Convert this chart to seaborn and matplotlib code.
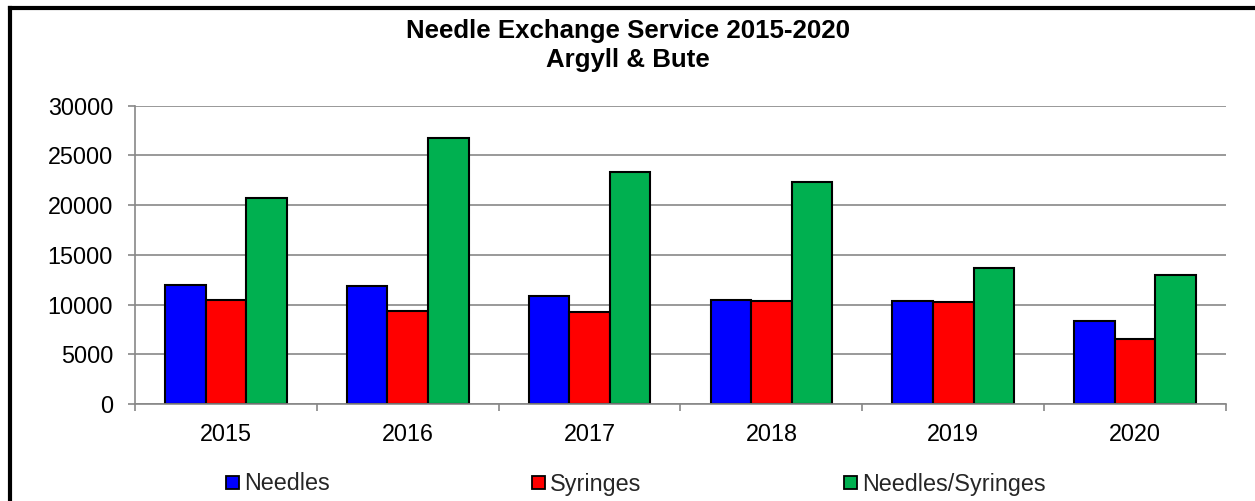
import matplotlib
matplotlib.use('Agg')
import matplotlib.pyplot as plt
import seaborn as sns
import pandas as pd
import numpy as np
from matplotlib.patches import Patch
from matplotlib.lines import Line2D

# ---- data ----
years = ['2015', '2016', '2017', '2018', '2019', '2020']
needles = [11980, 11850, 10880, 10450, 10320, 8350]
syringes = [10480, 9380, 9220, 10350, 10280, 6580]
needles_syringes = [20700, 26750, 23380, 22280, 13700, 12950]
series_names = ['Needles', 'Syringes', 'Needles/Syringes']
series_colors = ['#0000FF', '#FF0000', '#00B050']
y_ticks = [0, 5000, 10000, 15000, 20000, 25000, 30000]
title_line1 = 'Needle Exchange Service 2015-2020'
title_line2 = 'Argyll & Bute'

sns.set_theme(style='ticks')
plt.rcParams['font.family'] = ['Liberation Sans', 'DejaVu Sans']

df = pd.DataFrame({
    'Year': years * 3,
    'Series': [s for s in series_names for _ in years],
    'Value': needles + syringes + needles_syringes,
})

W, H = 1255, 501
fig = plt.figure(figsize=(W / 100, H / 100), dpi=100)
fig.patch.set_facecolor('white')

ax_left, ax_right, ax_bottom, ax_top = 135, 1226, 404, 105.7
ax = fig.add_axes([ax_left / W, (H - ax_bottom) / H,
                   (ax_right - ax_left) / W, (ax_bottom - ax_top) / H])

sns.barplot(data=df, x='Year', y='Value', hue='Series', hue_order=series_names,
            order=years, palette=series_colors, saturation=1, width=0.67,
            edgecolor='black', linewidth=1.5, errorbar=None, legend=False, ax=ax)

grid_col = '#878787'
ax.set_xlim(-0.5, len(years) - 0.5)
ax.set_ylim(y_ticks[0], y_ticks[-1])
ax.set_yticks(y_ticks)
ax.set_xlabel('')
ax.set_ylabel('')
ax.set_facecolor('white')
ax.yaxis.grid(True, color=grid_col, linewidth=1.2)
ax.set_axisbelow(True)
for s in ['top', 'right']:
    ax.spines[s].set_visible(False)
for s in ['left', 'bottom']:
    ax.spines[s].set_color(grid_col)
    ax.spines[s].set_linewidth(1.2)

fs = 16.8
ax.tick_params(axis='y', which='major', left=True, length=5, width=1.2,
               color=grid_col, pad=10.8, labelsize=fs, labelcolor='black')
ax.set_xticks(np.arange(len(years) + 1) - 0.5, minor=True)
ax.tick_params(axis='x', which='major', bottom=True, length=0, pad=14,
               labelsize=fs, labelcolor='black')
ax.tick_params(axis='x', which='minor', bottom=True, length=5, width=1.2,
               color=grid_col)

# title
fig.text(0.5, (H - 38) / H, title_line1, ha='center', va='baseline',
         fontsize=18.6, fontweight='bold', color='black')
fig.text(0.5, (H - 67) / H, title_line2, ha='center', va='baseline',
         fontsize=18.6, fontweight='bold', color='black')

# legend (one entry per column position)
leg_x = [226, 532, 844]
for name, col, x in zip(series_names, series_colors, leg_x):
    h = Patch(facecolor=col, edgecolor='black', linewidth=1.3)
    fig.legend([h], [name], loc='center left',
               bbox_to_anchor=(x / W, (H - 484) / H),
               frameon=False, borderpad=0, borderaxespad=0,
               handlelength=0.56, handleheight=0.5, handletextpad=0.2,
               fontsize=fs)

# outer frame (left and top edges visible)
fig.add_artist(Line2D([10 / W, 10 / W], [(H - 8) / H, 0], transform=fig.transFigure,
                      color='black', linewidth=3, solid_capstyle='projecting'))
fig.add_artist(Line2D([10 / W, 1], [(H - 8) / H, (H - 8) / H], transform=fig.transFigure,
                      color='black', linewidth=3, solid_capstyle='projecting'))

fig.savefig('out.png', dpi=100, facecolor='white')
